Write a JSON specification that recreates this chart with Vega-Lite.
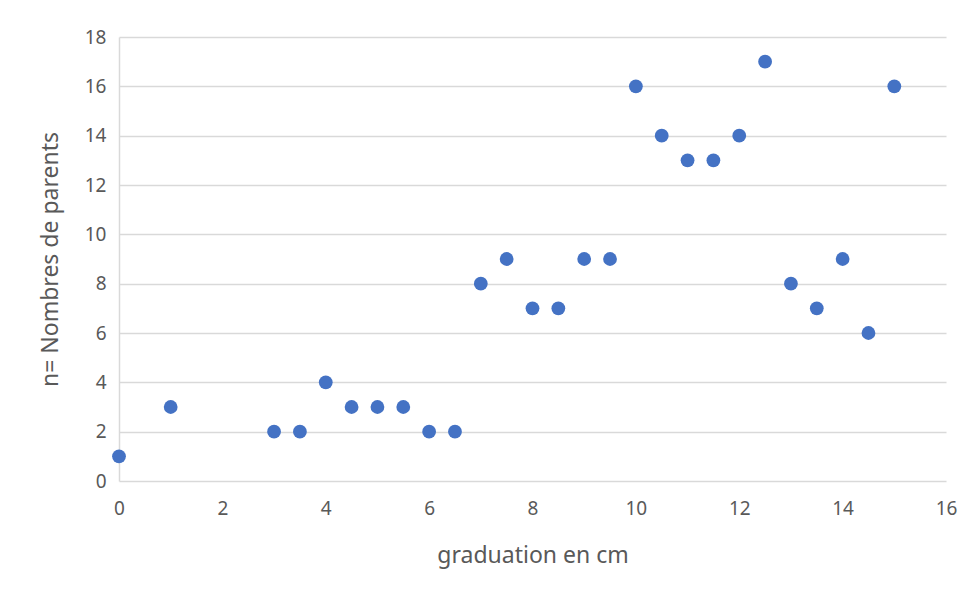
{
  "$schema": "https://vega.github.io/schema/vega-lite/v6.json",
  "autosize": {"type": "none"},
  "width": 827,
  "height": 444,
  "padding": {"left": 119, "top": 37, "right": 30, "bottom": 111},
  "background": "white",
  "config": {
    "view": {"stroke": null},
    "font": "Noto Sans",
    "axis": {
      "labelFont": "Noto Sans",
      "titleFont": "Noto Sans",
      "labelColor": "#595959",
      "titleColor": "#595959",
      "labelFontSize": 19,
      "titleFontSize": 23,
      "titleFontWeight": "normal",
      "gridColor": "#d9d9d9",
      "gridWidth": 1.5,
      "domainColor": "#d9d9d9",
      "domainWidth": 1.5,
      "ticks": false
    }
  },
  "data": {
    "values": [
      {"x": 0, "n": 1}, {"x": 1, "n": 3}, {"x": 3, "n": 2}, {"x": 3.5, "n": 2},
      {"x": 4, "n": 4}, {"x": 4.5, "n": 3}, {"x": 5, "n": 3}, {"x": 5.5, "n": 3},
      {"x": 6, "n": 2}, {"x": 6.5, "n": 2}, {"x": 7, "n": 8}, {"x": 7.5, "n": 9},
      {"x": 8, "n": 7}, {"x": 8.5, "n": 7}, {"x": 9, "n": 9}, {"x": 9.5, "n": 9},
      {"x": 10, "n": 16}, {"x": 10.5, "n": 14}, {"x": 11, "n": 13}, {"x": 11.5, "n": 13},
      {"x": 12, "n": 14}, {"x": 12.5, "n": 17}, {"x": 13, "n": 8}, {"x": 13.5, "n": 7},
      {"x": 14, "n": 9}, {"x": 14.5, "n": 6}, {"x": 15, "n": 16}
    ]
  },
  "mark": {"type": "point", "filled": true, "opacity": 1, "size": 190, "color": "#4472C4"},
  "encoding": {
    "x": {
      "field": "x", "type": "quantitative",
      "scale": {"domain": [0, 16], "nice": false, "zero": false},
      "axis": {"values": [0, 2, 4, 6, 8, 10, 12, 14, 16], "grid": false, "domain": false, "labelPadding": 18, "title": "graduation en cm", "titlePadding": 26, "labelFlush": false}
    },
    "y": {
      "field": "n", "type": "quantitative",
      "scale": {"domain": [0, 18], "nice": false},
      "axis": {"values": [0, 2, 4, 6, 8, 10, 12, 14, 16, 18], "grid": true, "domain": true, "labelPadding": 13, "title": "n= Nombres de parents", "titlePadding": 22, "labelFlush": false}
    }
  }
}
